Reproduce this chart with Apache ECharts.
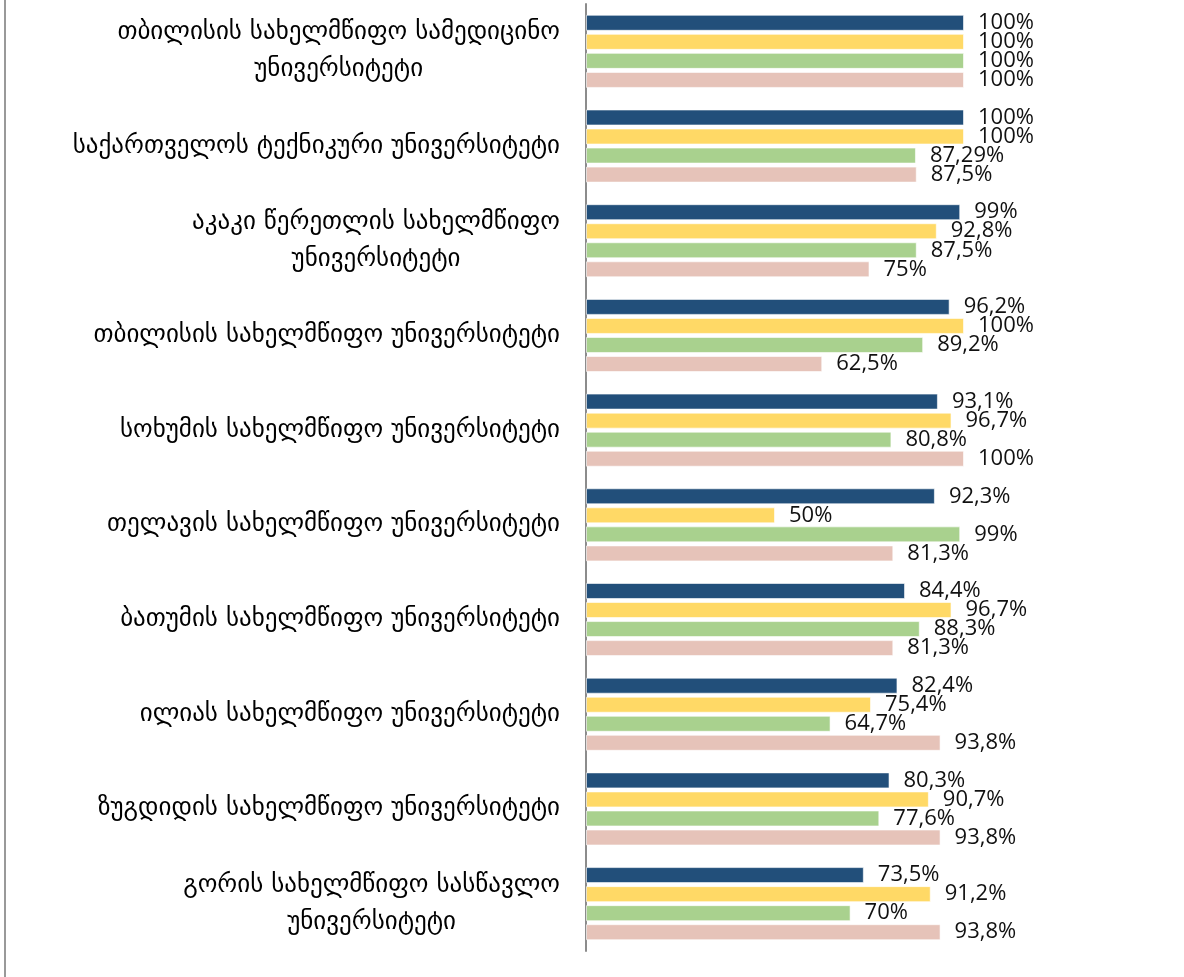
<!DOCTYPE html>
<html>
<head>
<meta charset="utf-8">
<script src="https://cdn.jsdelivr.net/npm/echarts@6/dist/echarts.min.js"></script>
<style>
html,body{margin:0;padding:0;background:#fff;}
#chart{width:1184px;height:977px;}
</style>
</head>
<body>
<div id="chart"></div>
<script>
const categories = [
  ["თბილისის სახელმწიფო სამედიცინო", "უნივერსიტეტი"],
  ["საქართველოს ტექნიკური უნივერსიტეტი"],
  ["აკაკი წერეთლის სახელმწიფო", "უნივერსიტეტი"],
  ["თბილისის სახელმწიფო უნივერსიტეტი"],
  ["სოხუმის სახელმწიფო უნივერსიტეტი"],
  ["თელავის სახელმწიფო უნივერსიტეტი"],
  ["ბათუმის სახელმწიფო უნივერსიტეტი"],
  ["ილიას სახელმწიფო უნივერსიტეტი"],
  ["ზუგდიდის სახელმწიფო უნივერსიტეტი"],
  ["გორის სახელმწიფო სასწავლო", "უნივერსიტეტი"]
];
const seriesBlue   = [100, 100, 99, 96.2, 93.1, 92.3, 84.4, 82.4, 80.3, 73.5];
const seriesYellow = [100, 100, 92.8, 100, 96.7, 50, 96.7, 75.4, 90.7, 91.2];
const seriesGreen  = [100, 87.29, 87.5, 89.2, 80.8, 99, 88.3, 64.7, 77.6, 70];
const seriesPink   = [100, 87.5, 75, 62.5, 100, 81.3, 81.3, 93.8, 93.8, 93.8];

const colors = ['#224F7A', '#FFD966', '#A9D18E', '#E6C3B9'];
const seriesData = [seriesBlue, seriesYellow, seriesGreen, seriesPink];

const chart = echarts.init(document.getElementById('chart'));
const catKeys = categories.map((c, i) => 'c' + i);
const catMap = {};
categories.forEach((c, i) => { catMap['c' + i] = c; });

const labelFont = { fontFamily: 'DejaVu Sans', fontSize: 25, color: '#000', lineHeight: 37 };

chart.setOption({
  backgroundColor: '#fff',
  animation: false,
  grid: { left: 586, right: 220, top: 4, bottom: 26, containLabel: false },
  xAxis: {
    type: 'value', min: 0, max: 100, show: false
  },
  yAxis: {
    type: 'category',
    inverse: true,
    data: catKeys,
    axisLine: { show: true, lineStyle: { color: '#8c8c8c', width: 2 } },
    axisTick: { show: false },
    axisLabel: Object.assign({
      margin: 26,
      formatter: function (v) {
        const lines = catMap[v];
        if (lines.length === 1) return '{a|' + lines[0] + '}';
        return '{a|' + lines[0] + '}\n{b|' + lines[1] + '}';
      },
      rich: {
        a: Object.assign({}, labelFont),
        b: Object.assign({ align: 'center' }, labelFont)
      }
    }, labelFont)
  },
  series: seriesData.map((d, i) => ({
    type: 'bar',
    data: d,
    barWidth: 16,
    barGap: '19%',
    itemStyle: { color: colors[i], borderColor: 'rgba(255,255,255,0.6)', borderWidth: 1 },
    label: {
      show: true,
      position: 'right',
      distance: 14,
      fontFamily: 'Open Sans',
      fontSize: 22,
      color: '#111',
      formatter: p => String(p.value).replace('.', ',') + '%'
    }
  })),
  graphic: [{
    type: 'line',
    shape: { x1: 5, y1: 0, x2: 5, y2: 977 },
    style: { stroke: '#999', lineWidth: 2 }
  }]
});
</script>
</body>
</html>
